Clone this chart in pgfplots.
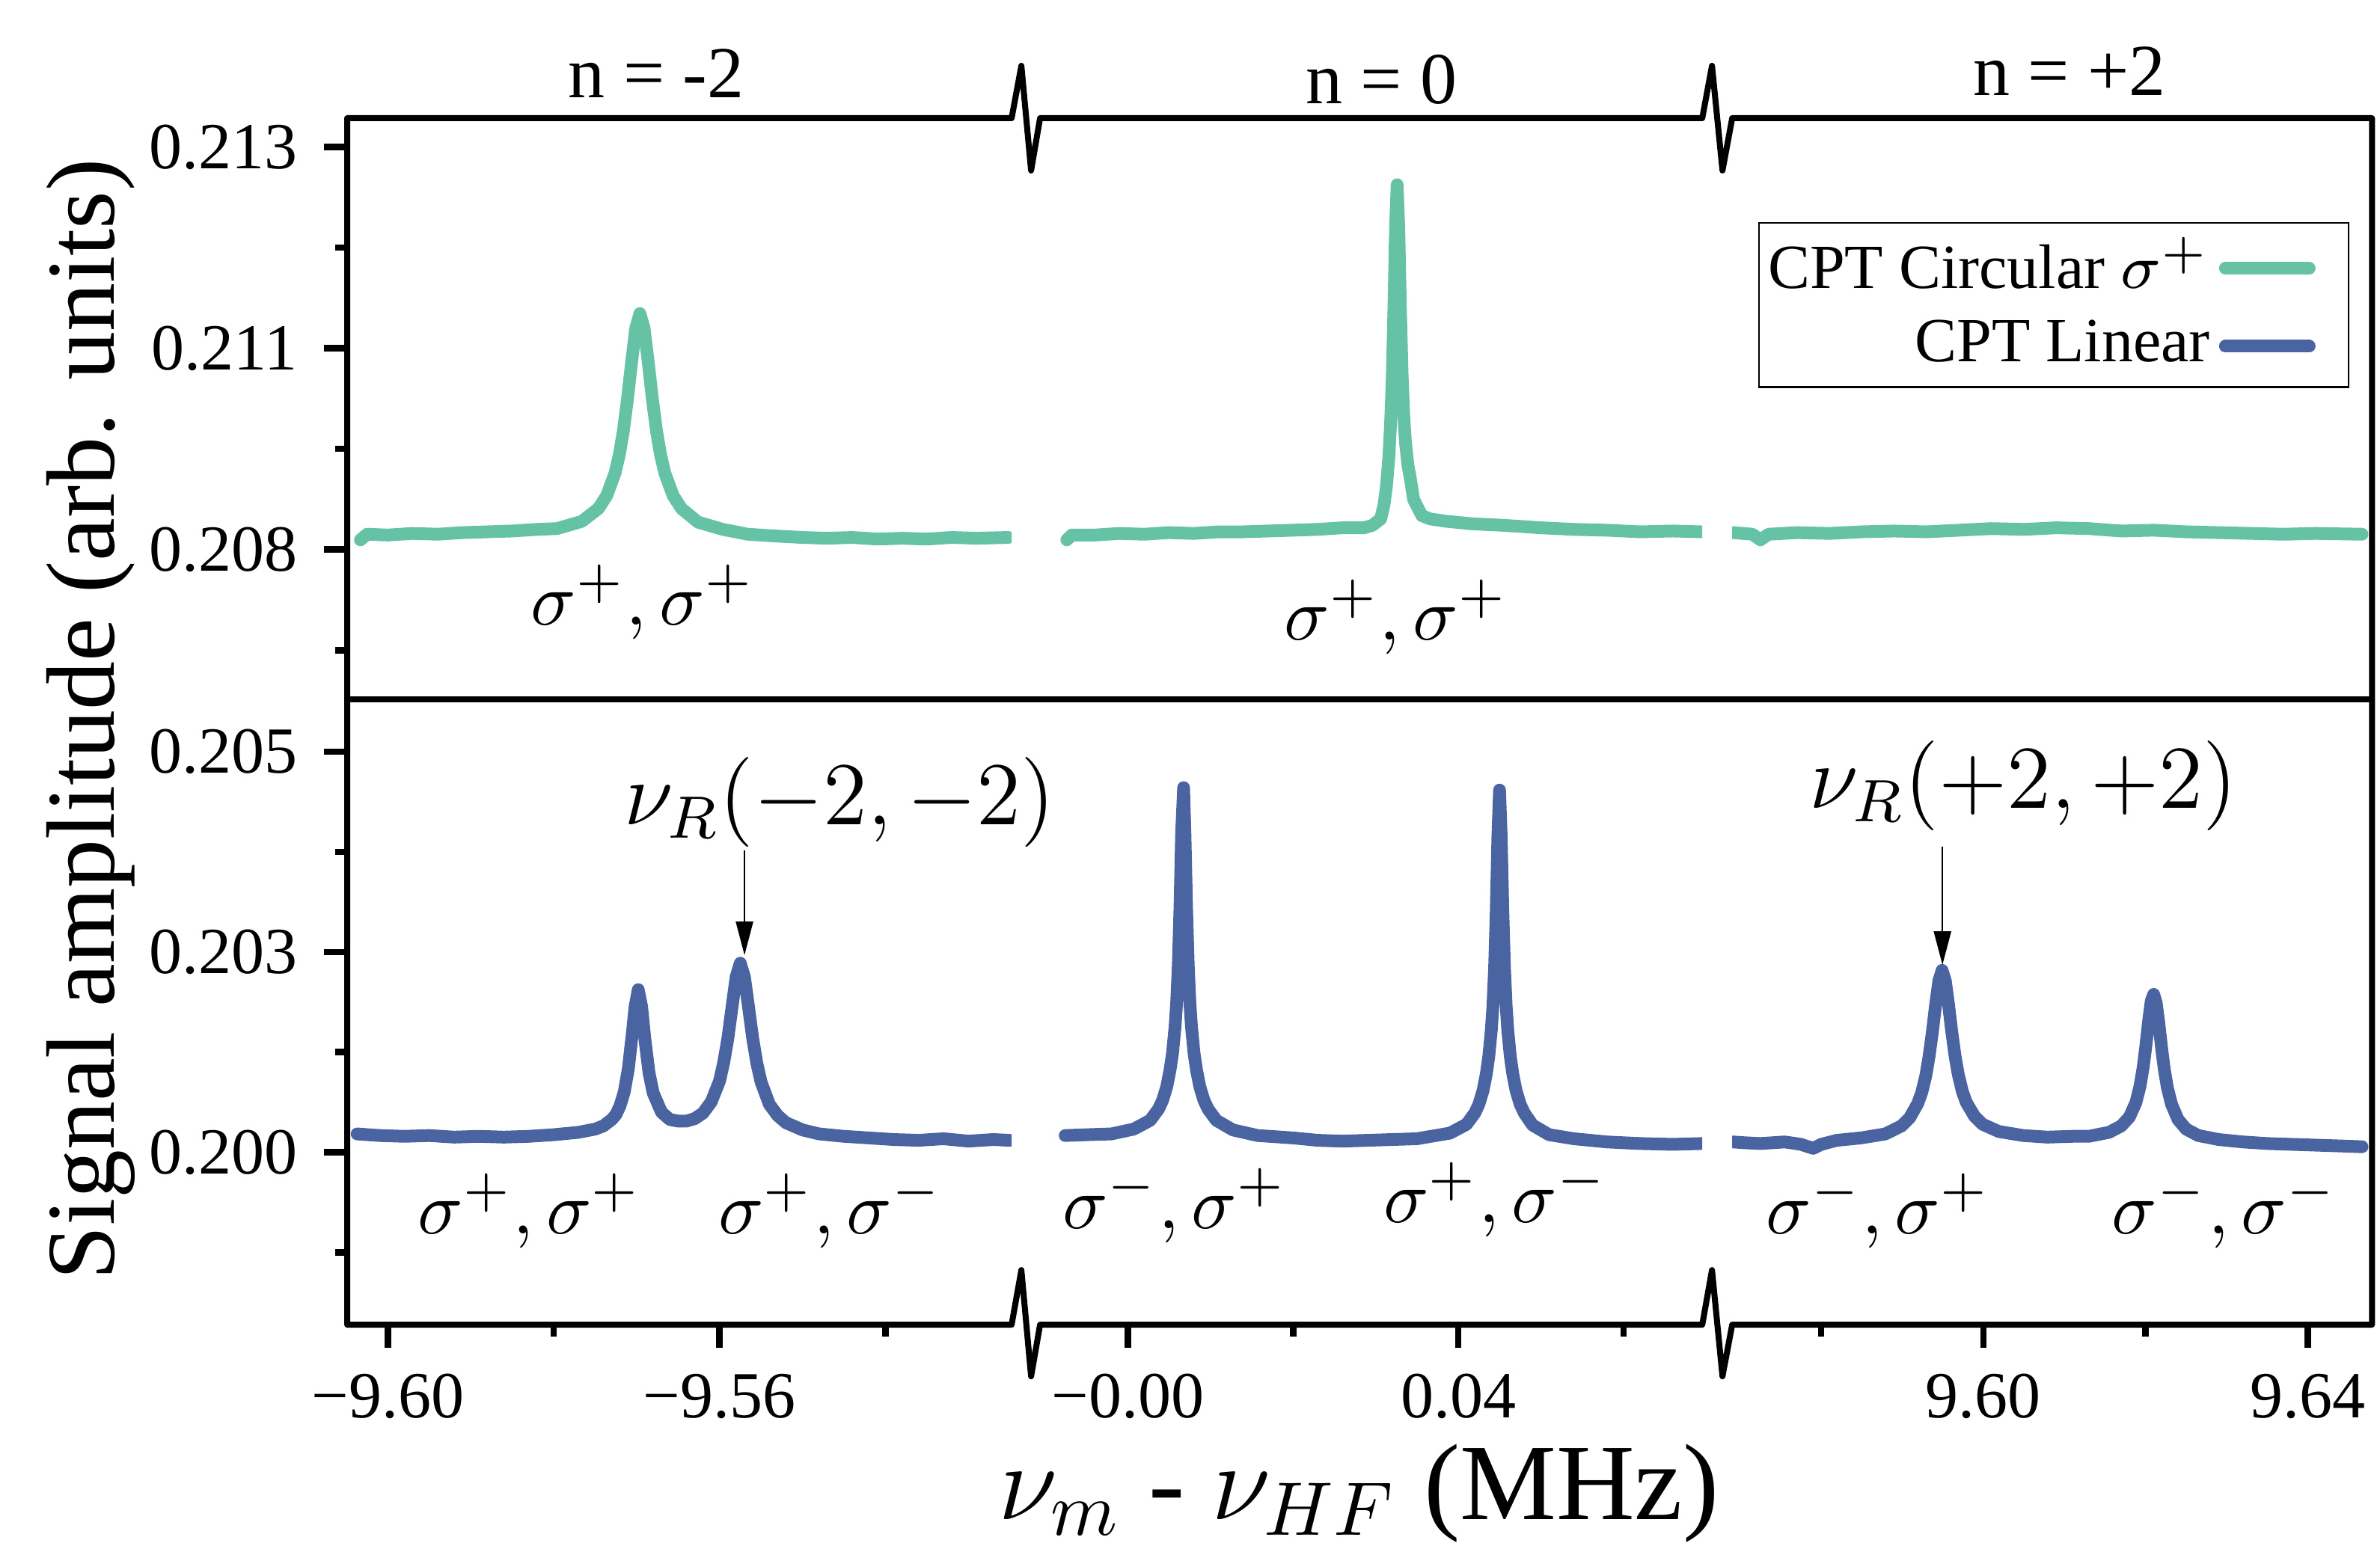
\RequirePackage{fix-cm}
\documentclass[border=0pt]{standalone}
\usepackage[no-math]{fontspec}
\setmainfont{Liberation Serif}
\usepackage{pgfplots}
\pgfplotsset{compat=1.18}
\usetikzlibrary{arrows.meta}

\definecolor{cptgreen}{HTML}{66C2A5}
\definecolor{cptblue}{HTML}{4A64A1}
\newcommand\fs[1]{\fontsize{#1}{#1}\selectfont}

\pgfplotsset{
  brk/.style={scale only axis, anchor=north west, scaled ticks=false,
    axis x line*=bottom, axis y line*=left, axis line style={draw=none},
    tick align=outside, major tick length=3.1pt, minor tick length=1.6pt,
    every tick/.append style={black, line width=0.85pt},
    ticklabel style={font=\fs{8.8}}},
  toprow/.style={height=77.7pt, ymin=0.20614, ymax=0.213357, xtick=\empty},
  botrow/.style={height=83.6pt, ymin=0.197851, ymax=0.205652},
  col1/.style={width=88.8pt, xmin=-9.6049, xmax=-9.52479},
  col2/.style={width=88.5pt, xmin=-0.01065, xmax=0.06954, ytick=\empty},
  col3/.style={width=85.5pt, xmin=9.5690, xmax=9.6479, ytick=\empty},
  gline/.style={color=cptgreen, line width=1.7pt, line join=round, line cap=round, mark=none},
  bline/.style={color=cptblue, line width=1.7pt, line join=round, line cap=round, mark=none},
}

\begin{document}
\begin{tikzpicture}
\path[use as bounding box] (0,0) rectangle (318.1pt,-207.5pt);

% ---- top row: CPT circular ----
\begin{axis}[brk, toprow, col1, at={(46.4pt,-15.8pt)},
  ytick={0.208,0.2105,0.213}, yticklabels={0.208,0.211,0.213},
  minor ytick={0.20675,0.20925,0.21175}]
\addplot[gline] coordinates {
(-9.6033,0.20812) (-9.6025,0.20819) (-9.600,0.20818) (-9.597,0.20820) (-9.594,0.20819)
(-9.591,0.20821) (-9.588,0.20822) (-9.585,0.20823) (-9.582,0.20825) (-9.5796,0.20826)
(-9.5776,0.20832) (-9.5766,0.20835) (-9.5746,0.20851) (-9.5736,0.20867) (-9.5726,0.20895)
(-9.5721,0.20917) (-9.5716,0.20947) (-9.5711,0.20987) (-9.5706,0.21033) (-9.5701,0.21075)
(-9.5696,0.21093) (-9.5691,0.21075) (-9.5686,0.21033) (-9.5681,0.20987) (-9.5676,0.20947)
(-9.5671,0.20917) (-9.5666,0.20895) (-9.5656,0.20867) (-9.5646,0.20851) (-9.5626,0.20834)
(-9.5596,0.20825) (-9.5566,0.20819) (-9.5536,0.20817) (-9.550,0.20815) (-9.547,0.20814)
(-9.544,0.20815) (-9.541,0.20813) (-9.538,0.20814) (-9.535,0.20813) (-9.532,0.20815)
(-9.529,0.20814) (-9.5252,0.20815)};
\end{axis}

\begin{axis}[brk, toprow, col2, at={(139.0pt,-15.8pt)}]
\addplot[gline] coordinates {
(-0.0074,0.20812) (-0.0068,0.20818) (-0.004,0.20818) (-0.001,0.20820) (0.002,0.20819)
(0.005,0.20821) (0.008,0.20820) (0.011,0.20822) (0.014,0.20822) (0.017,0.20823)
(0.020,0.20824) (0.023,0.20825) (0.026,0.20827) (0.0286,0.20827) (0.0296,0.20830)
(0.0306,0.20838) (0.0310,0.20855) (0.0313,0.20878) (0.0316,0.20915) (0.0318,0.20955)
(0.0320,0.21010) (0.0322,0.21095) (0.0324,0.21198) (0.0326,0.21253) (0.0328,0.21199)
(0.0330,0.21098) (0.0332,0.21018) (0.0334,0.20966) (0.0336,0.20934) (0.0339,0.20905)
(0.0342,0.20888) (0.0346,0.20862) (0.0356,0.20842) (0.0366,0.20838) (0.0386,0.20835)
(0.0416,0.20832) (0.0456,0.20830) (0.050,0.20827) (0.054,0.20825) (0.058,0.20824)
(0.062,0.20822) (0.066,0.20823) (0.0695,0.20822)};
\end{axis}

\begin{axis}[brk, toprow, col3, at={(231.5pt,-15.8pt)},
  legend style={at={(0.965,0.8216)}, anchor=north east, draw=black, line width=0.25pt,
    font=\fs{8.4}, inner xsep=1.2pt, inner ysep=1.9pt, row sep=2.7pt,
    nodes={inner sep=0pt},
    /tikz/every odd column/.append style={column sep=1.2pt}},
  legend cell align=right, legend plot pos=right,
  legend image code/.code={\draw[#1] (0.85pt,0pt) -- (12.05pt,0pt);
    \path[draw=none] (0pt,0pt) -- (16.1pt,0pt);}]
\addplot[gline, forget plot] coordinates {
(9.5691,0.20821) (9.5715,0.20819) (9.5725,0.20812) (9.5735,0.20819) (9.577,0.20821)
(9.581,0.20820) (9.585,0.20822) (9.589,0.20823) (9.593,0.20822) (9.597,0.20824)
(9.601,0.20826) (9.605,0.20825) (9.609,0.20827) (9.613,0.20826) (9.617,0.20823)
(9.621,0.20824) (9.625,0.20822) (9.629,0.20821) (9.633,0.20820) (9.637,0.20819)
(9.641,0.20820) (9.6467,0.20819)};
\addlegendimage{gline}
\addlegendentry{CPT Circular $\sigma^+$}
\addlegendimage{bline}
\addlegendentry{CPT Linear}
\end{axis}

% ---- bottom row: CPT linear ----
\begin{axis}[brk, botrow, col1, at={(46.4pt,-93.5pt)},
  ytick={0.200,0.2025,0.205}, yticklabels={0.200,0.203,0.205},
  minor ytick={0.19875,0.20125,0.20375},
  xtick={-9.60,-9.56}, xticklabels={−9.60,−9.56}, minor xtick={-9.58,-9.54}]
\addplot[bline] coordinates {
(-9.6037,0.20023) (-9.6010,0.20021) (-9.598,0.20020) (-9.595,0.20021) (-9.592,0.20019)
(-9.589,0.20020) (-9.586,0.20019) (-9.583,0.20020) (-9.580,0.20022) (-9.577,0.20025)
(-9.575,0.20029) (-9.574,0.20033) (-9.573,0.20041) (-9.5725,0.20047) (-9.572,0.20058)
(-9.5715,0.20075) (-9.571,0.20104) (-9.5705,0.20150) (-9.5702,0.20181) (-9.5698,0.20203)
(-9.5694,0.20182) (-9.5690,0.20141) (-9.5685,0.20099) (-9.568,0.20074) (-9.567,0.20050)
(-9.566,0.20041) (-9.565,0.20039) (-9.564,0.20039) (-9.563,0.20042) (-9.562,0.20049)
(-9.561,0.20063) (-9.560,0.20089) (-9.5595,0.20112) (-9.559,0.20142) (-9.5585,0.20181)
(-9.558,0.20219) (-9.5575,0.20236) (-9.557,0.20219) (-9.5565,0.20181) (-9.556,0.20142)
(-9.5555,0.20111) (-9.555,0.20088) (-9.554,0.20060) (-9.553,0.20046) (-9.552,0.20037)
(-9.550,0.20028) (-9.548,0.20023) (-9.545,0.20020) (-9.542,0.20018) (-9.539,0.20016)
(-9.536,0.20015) (-9.533,0.20017) (-9.530,0.20014) (-9.527,0.20016) (-9.5250,0.20015)};
\end{axis}

\begin{axis}[brk, botrow, col2, at={(139.0pt,-93.5pt)},
  xtick={0,0.04}, xticklabels={−0.00,0.04}, minor xtick={0.02,0.06}]
\addplot[bline] coordinates {
(-0.0076,0.20021) (-0.005,0.20022) (-0.002,0.20023) (0.0007,0.20029) (0.0027,0.20040)
(0.0037,0.20054) (0.0042,0.20065) (0.0047,0.20082) (0.0051,0.20103) (0.0054,0.20124)
(0.0057,0.20156) (0.0059,0.20187) (0.0061,0.20234) (0.0063,0.20305) (0.0065,0.20399)
(0.00674,0.20455) (0.0069,0.20399) (0.0071,0.20305) (0.0073,0.20234) (0.0075,0.20187)
(0.0077,0.20156) (0.0080,0.20124) (0.0083,0.20103) (0.0087,0.20082) (0.0092,0.20065)
(0.0097,0.20054) (0.0107,0.20040) (0.0127,0.20028) (0.0157,0.20021) (0.020,0.20018)
(0.023,0.20015) (0.026,0.20014) (0.029,0.20015) (0.032,0.20016) (0.035,0.20017)
(0.039,0.20024) (0.041,0.20035) (0.042,0.20049) (0.0425,0.20060) (0.043,0.20077)
(0.0434,0.20098) (0.0437,0.20120) (0.044,0.20152) (0.0442,0.20183) (0.0444,0.20230)
(0.0446,0.20301) (0.0448,0.20395) (0.0450,0.20452) (0.0452,0.20395) (0.0454,0.20301)
(0.0456,0.20230) (0.0458,0.20183) (0.0460,0.20152) (0.0463,0.20120) (0.0466,0.20098)
(0.0470,0.20077) (0.0475,0.20060) (0.0480,0.20049) (0.0490,0.20034) (0.0510,0.20022)
(0.054,0.20017) (0.058,0.20013) (0.062,0.20011) (0.066,0.20010) (0.0695,0.20011)};
\end{axis}

\begin{axis}[brk, botrow, col3, at={(231.5pt,-93.5pt)},
  xtick={9.60,9.64}, xticklabels={9.60,9.64}, minor xtick={9.58,9.62}]
\addplot[bline] coordinates {
(9.5691,0.20013) (9.5705,0.20012) (9.5725,0.20011) (9.5755,0.20013) (9.5775,0.20010)
(9.5790,0.20005) (9.5800,0.20010) (9.5819,0.20015) (9.5849,0.20018) (9.5879,0.20023)
(9.5899,0.20033) (9.5909,0.20043) (9.5919,0.20061) (9.5924,0.20075) (9.5929,0.20096)
(9.5933,0.20120) (9.5937,0.20150) (9.5941,0.20184) (9.5945,0.20214) (9.5949,0.20227)
(9.5953,0.20214) (9.5957,0.20184) (9.5961,0.20150) (9.5965,0.20120) (9.5969,0.20097)
(9.5974,0.20076) (9.5979,0.20062) (9.5989,0.20045) (9.5999,0.20035) (9.6019,0.20026)
(9.6049,0.20021) (9.6079,0.20019) (9.6110,0.20020) (9.6130,0.20020) (9.6155,0.20025)
(9.6170,0.20033) (9.6180,0.20044) (9.6188,0.20062) (9.6193,0.20082) (9.6197,0.20106)
(9.6200,0.20130) (9.6204,0.20166) (9.6207,0.20189) (9.6210,0.20197) (9.6213,0.20187)
(9.6216,0.20164) (9.6220,0.20128) (9.6223,0.20104) (9.6227,0.20080) (9.6232,0.20060)
(9.6240,0.20041) (9.6250,0.20029) (9.6265,0.20021) (9.629,0.20016) (9.632,0.20013)
(9.635,0.20011) (9.638,0.20010) (9.641,0.20009) (9.644,0.20008) (9.6467,0.20007)};
\end{axis}

% ---- broken frame, divider, labels (reference pixel grid, 1px = 0.1pt) ----
\begin{scope}[x=0.1pt, y=-0.1pt]
\draw[line width=0.8pt, line join=round]
  (464,158) -- (1352,158) -- (1365,88) -- (1378,228) -- (1390,158) -- (2275,158)
  -- (2288,88) -- (2302,228) -- (2315,158) -- (3170,158) -- (3170,1771)
  -- (2315,1771) -- (2302,1840) -- (2288,1698) -- (2275,1771) -- (1390,1771)
  -- (1378,1840) -- (1365,1698) -- (1352,1771) -- (464,1771) -- cycle;
\draw[line width=0.8pt] (464,935) -- (3170,935);

\node[anchor=base, font=\fs{9.8}] at (877,131) {n = -2};
\node[anchor=base, font=\fs{9.8}] at (1846,139) {n = 0};
\node[anchor=base, font=\fs{9.8}] at (2766,128) {n = +2};

\node[anchor=base, font=\fs{10}] at (859,835) {$\sigma^+,\sigma^+$};
\node[anchor=base, font=\fs{10}] at (1866,855) {$\sigma^+,\sigma^+$};
\node[anchor=base, font=\fs{10}] at (708,1649) {$\sigma^+,\sigma^+$};
\node[anchor=base, font=\fs{10}] at (1110,1649) {$\sigma^+,\sigma^-$};
\node[anchor=base, font=\fs{10}] at (1570,1642) {$\sigma^-,\sigma^+$};
\node[anchor=base, font=\fs{10}] at (1999,1634) {$\sigma^+,\sigma^-$};
\node[anchor=base, font=\fs{10}] at (2510,1649) {$\sigma^-,\sigma^+$};
\node[anchor=base, font=\fs{10}] at (2973,1649) {$\sigma^-,\sigma^-$};

\node[anchor=base, font=\fs{12}] at (1122,1102) {$\nu_R(-2,-2)$};
\node[anchor=base, font=\fs{12}] at (2704,1080) {$\nu_R(+2,+2)$};
\draw[line width=0.25pt, -{Triangle[length=4.5pt,width=2.3pt]}] (995,1137) -- (995,1277);
\draw[line width=0.25pt, -{Triangle[length=4.5pt,width=2.3pt]}] (2596,1132) -- (2596,1290);

\node[anchor=base, rotate=90, font=\fs{13}] at (152,962) {Signal amplitude (arb. units)};
\node[anchor=base, font=\fs{14.5}] at (1816,2031) {$\nu_m$ - $\nu_{HF}$ (MHz)};
\end{scope}
\end{tikzpicture}
\end{document}
